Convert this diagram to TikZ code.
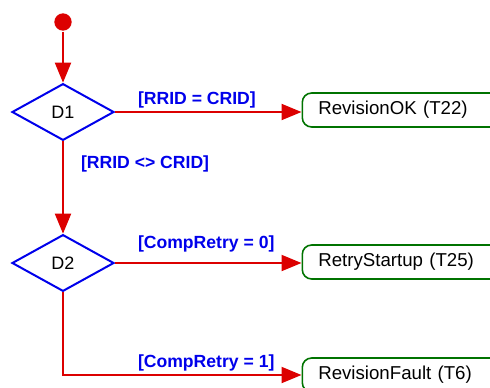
\documentclass[tikz,border=0pt]{standalone}
\usepackage{fontspec}
\setmainfont{Liberation Sans}
\usetikzlibrary{shapes.geometric, arrows.meta, positioning}
\definecolor{flowred}{RGB}{220, 0, 0}
\definecolor{guardblue}{RGB}{0, 0, 235}
\definecolor{stategreen}{RGB}{0, 115, 0}

\begin{document}
\begin{tikzpicture}[
    x=0.75pt, y=-0.75pt,
    line width=1.5pt,
    flow/.style={draw=flowred, -{Triangle[length=15pt, width=12pt]}},
    decision/.style={diamond, draw=guardblue, fill=white, minimum width=76.5pt,
        minimum height=42.5pt, inner sep=0pt, font=\fontsize{13.5}{16}\selectfont},
    target/.style={rectangle, rounded corners=7pt, draw=stategreen, line width=1.2pt,
        anchor=west, minimum height=25.5pt, inner xsep=12pt, text width=150pt,
        align=left, font=\fontsize{14}{16}\selectfont},
    guard/.style={text=guardblue, anchor=west, inner sep=0pt,
        font=\bfseries\fontsize{13.2}{15}\selectfont}
]
    \useasboundingbox (0, 0) rectangle (490, 387);

    % ==========================================
    % NODES
    % ==========================================
    % Start
    \node[circle, fill=flowred, minimum size=13pt, inner sep=0pt] (start) at (63, 22) {};

    % Decisions
    \node[decision] (d1) at (63, 112) {D1};
    \node[decision] (d2) at (63, 263) {D2};

    % Targets
    \node[target] (ok)    at (301.5, 110) {RevisionOK (T22)};
    \node[target] (retry) at (301.5, 262) {RetryStartup (T25)};
    \node[target] (fault) at (301.5, 375) {RevisionFault (T6)};

    % ==========================================
    % FLOWS (Red)
    % ==========================================
    \draw[flow] (start) -- (d1.north);
    \draw[flow] (d1.east) -- (d1.east -| ok.west);
    \draw[flow] (d1.south) -- (d2.north);
    \draw[flow] (d2.east) -- (d2.east -| retry.west);
    \draw[flow] (d2.south) |- (fault.west);

    % ==========================================
    % GUARDS (Blue)
    % ==========================================
    \node[guard] (g_eq)    at (137, 99.5)  {[RRID = CRID]};
    \node[guard] (g_neq)   at (80, 163.5)  {[RRID <> CRID]};
    \node[guard] (g_zero)  at (137, 243.5) {[CompRetry = 0]};
    \node[guard] (g_one)   at (137, 362.5) {[CompRetry = 1]};

\end{tikzpicture}
\end{document}
